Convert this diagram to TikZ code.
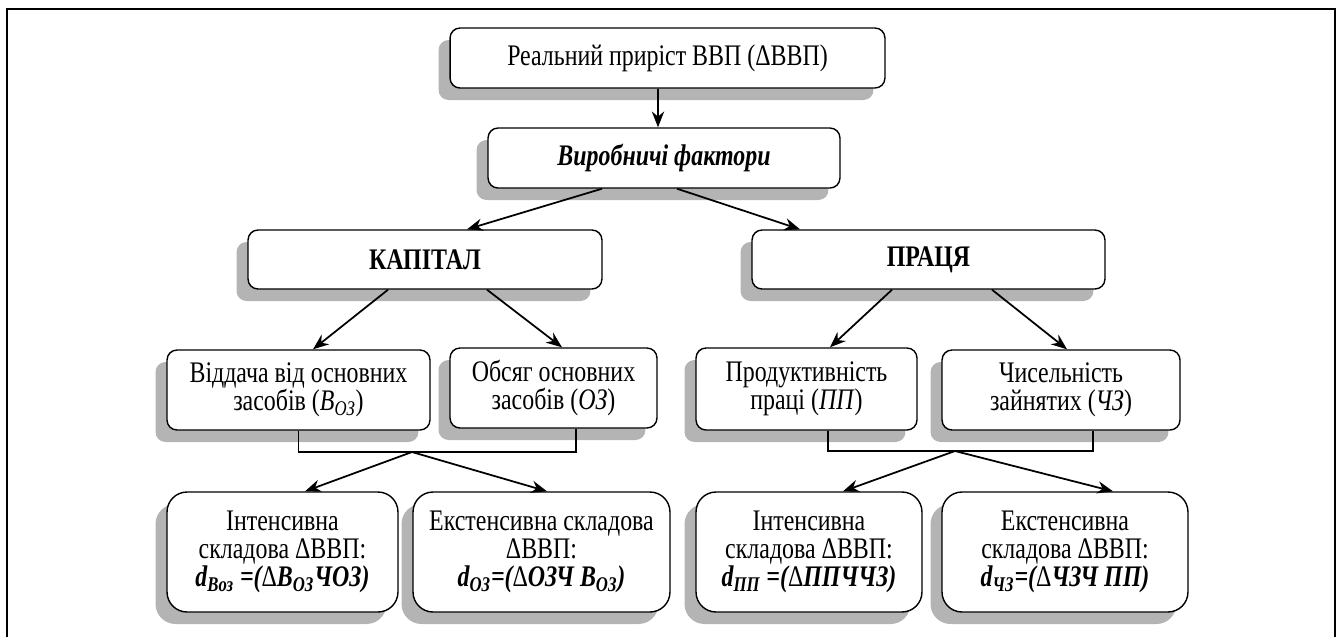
\documentclass[tikz,border=0pt]{standalone}
\usepackage{fontspec}
\setmainfont{Liberation Serif}[FakeStretch=0.8]
\usepackage{tikz}
\usetikzlibrary{arrows.meta,positioning,calc,shadows}

\definecolor{shadowgray}{RGB}{180,180,180}

\begin{document}
\begin{tikzpicture}[x=0.02cm,y=-0.02cm,
    box/.style={rectangle, draw, line width=0.8pt, rounded corners=0.2cm, fill=white, align=center, inner sep=2pt,
        font=\fontsize{17}{16}\selectfont,
        drop shadow={shadow xshift=-0.23cm, shadow yshift=-0.24cm, fill=shadowgray, opacity=1}},
    bigbox/.style={box, rounded corners=0.4cm, minimum height=2.4cm},
    arr/.style={-{Stealth[length=9pt,width=7pt]}, line width=1pt}]
    \useasboundingbox (0,0) rectangle (1338,637);
    \draw[line width=1.5pt] (7,637) -- (7,9) -- (1335,9) -- (1335,637);

    \node[box, minimum width=8.7cm, minimum height=1.2cm] (top) at (667.5,58) {Реальний приріст ВВП (ΔВВП)};
    \node[box, minimum width=7.04cm, minimum height=1.2cm] (vir) at (664,158) {\textbf{\textit{Виробничі фактори}}};
    \node[box, minimum width=7.08cm, minimum height=1.18cm] (kap) at (425,259.5) {\textbf{КАПІТАЛ}};
    \node[box, minimum width=7.06cm, minimum height=1.18cm] (pra) at (928.5,259.5) {\textbf{ПРАЦЯ}};

    \node[box, minimum width=5.26cm, minimum height=1.6cm] (vid) at (298.5,390) {Віддача від основних\\засобів (\textit{В\textsubscript{ОЗ}})};
    \node[box, minimum width=4.14cm, minimum height=1.6cm] (obs) at (553.5,388) {Обсяг основних\\засобів (\textit{ОЗ})};
    \node[box, minimum width=4.42cm, minimum height=1.64cm] (prod) at (806.5,389) {Продуктивність\\праці (\textit{ПП})};
    \node[box, minimum width=4.76cm, minimum height=1.6cm] (chys) at (1061,390) {Чисельність\\зайнятих (\textit{ЧЗ})};

    \node[bigbox, minimum width=4.62cm] (int1) at (282.5,552) {Інтенсивна\\складова ΔВВП:\\\textbf{\textit{d\textsubscript{Воз} =({\upshape\mdseries Δ}В\textsubscript{ОЗ}ЧОЗ)}}};
    \node[bigbox, minimum width=5.14cm] (ext1) at (541.5,552) {Екстенсивна складова\\ΔВВП:\\\textbf{\textit{d\textsubscript{ОЗ}=({\upshape\mdseries Δ}ОЗЧ В\textsubscript{ОЗ})}}};
    \node[bigbox, minimum width=4.52cm] (int2) at (809,552) {Інтенсивна\\складова ΔВВП:\\\textbf{\textit{d\textsubscript{ПП} =({\upshape\mdseries Δ}ППЧЧЗ)}}};
    \node[bigbox, minimum width=4.92cm] (ext2) at (1065,552) {Екстенсивна\\складова ΔВВП:\\\textbf{\textit{d\textsubscript{ЧЗ}=({\upshape\mdseries Δ}ЧЗЧ ПП)}}};

    % arrows between levels
    \draw[arr] ($(top.south)+(-9.5,0)$) coordinate (t1) -- (t1 |- vir.north);
    \draw[arr] ($(vir.south)+(-62,0)$) -- ($(kap.north)+(42,0)$);
    \draw[arr] ($(vir.south)+(13,0)$) -- ($(pra.north)+(-128.5,0)$);
    \draw[arr] ($(kap.south)+(-37,0)$) -- ($(vid.north)+(14.5,0)$);
    \draw[arr] ($(kap.south)+(62,0)$) -- ($(obs.north)+(8.5,0)$);
    \draw[arr] ($(pra.south)+(-36.5,0)$) -- ($(prod.north)+(23.5,0)$);
    \draw[arr] ($(pra.south)+(63.5,0)$) -- ($(chys.north)+(6,0)$);

    % brackets
    \coordinate (kj) at (412,452);
    \coordinate (pj) at (955,451);
    \draw[line width=0.6pt] (vid.south) |- (kj) -| ($(obs.south)+(22.5,0)$);
    \draw[line width=0.6pt] ($(prod.south)+(21.5,0)$) |- (pj) -| ($(chys.south)+(32,0)$);
    \draw[arr] (kj) -- ($(int1.north)+(22.5,0)$);
    \draw[arr] (kj) -- ($(ext1.north)+(5.5,0)$);
    \draw[arr] (pj) -- ($(int2.north)+(34,0)$);
    \draw[arr] (pj) -- ($(ext2.north)+(48,0)$);
\end{tikzpicture}
\end{document}
